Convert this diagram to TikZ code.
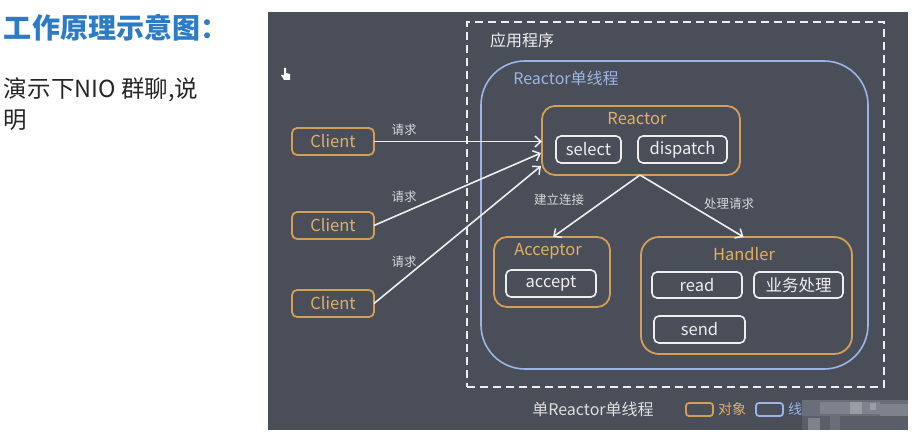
\documentclass[tikz,border=0pt]{standalone}
\usepackage{fontspec}
\setmainfont{Noto Sans CJK SC}
\usetikzlibrary{arrows.meta}
\definecolor{panel}{HTML}{4A4E59}
\definecolor{orng}{HTML}{D29E58}
\definecolor{orngtxt}{HTML}{E3AE65}
\definecolor{lblue}{HTML}{9DB4E6}
\definecolor{ttlblue}{HTML}{2C7BC6}
\definecolor{wht}{HTML}{EEEEEE}
\definecolor{mosA}{HTML}{6A6E78}
\definecolor{mosB}{HTML}{7E828C}
\definecolor{mosC}{HTML}{5A5E68}
\definecolor{mosD}{HTML}{9A9DA5}
\begin{document}
\begin{tikzpicture}[x=1pt,y=-1pt,
  every node/.style={inner sep=0pt, outer sep=0pt},
  objbox/.style={draw=orng, line width=1.8pt, rounded corners=13pt},
  clientbox/.style={draw=orng, line width=1.8pt, rounded corners=5pt, minimum width=82pt, minimum height=27pt, text=orngtxt, font=\fontsize{16.5}{18}\selectfont},
  fnbox/.style={draw=wht, line width=1.6pt, rounded corners=5pt, minimum height=27pt, text=wht, font=\fontsize{16.5}{18}\selectfont},
  objtitle/.style={text=orngtxt, font=\fontsize{16.5}{18}\selectfont},
  smalllbl/.style={text=wht!85!panel, font=\fontsize{12.5}{14}\selectfont},
  arr/.style={draw=wht, line width=1.6pt, -{Straight Barb[length=6pt,width=11pt,line width=1.5pt]}},
  legtxt/.style={text=wht!90!panel, font=\fontsize{16}{18}\selectfont}
]
\useasboundingbox (0,0) rectangle (917,435);
\fill[white] (0,0) rectangle (917,435);
\fill[panel] (268,12) rectangle (908,430);

% left texts
\node[anchor=west, text=ttlblue, font=\fontsize{28}{30}\selectfont\bfseries] (title) at (4,28) {工作原理示意图：};
\node[anchor=west, text=black!85, font=\fontsize{23.5}{26}\selectfont] (desc1) at (4,90) {演示下NIO 群聊,说};
\node[anchor=west, text=black!85, font=\fontsize{23.5}{26}\selectfont] (desc2) at (4,120) {明};

% cursor
\fill[white] (284,68) -- (286,68) -- (286,73) -- (290,74) -- (290,80) -- (284,80) -- (281,75) -- (284,75) -- cycle;

% containers
\node[draw=wht, dashed, dash pattern=on 8pt off 5pt, line width=1.6pt, minimum width=417pt, minimum height=365pt] (app) at (675.5,204.5) {};
\node[draw=lblue, line width=1.6pt, rounded corners=44pt, minimum width=387pt, minimum height=308pt] (thr) at (674.5,215) {};
\node[text=wht, font=\fontsize{16}{18}\selectfont] (applbl) at (522,40) {应用程序};
\node[text=lblue, font=\fontsize{16}{18}\selectfont] (thrlbl) at (566,78) {Reactor单线程};

% Reactor
\node[objbox, minimum width=198pt, minimum height=69pt] (reactor) at (641,140.5) {};
\node[objtitle] (reactorlbl) at (637,119) {Reactor};
\node[fnbox, minimum width=65pt] (select) at (588.5,149.5) {select};
\node[fnbox, minimum width=89pt] (dispatch) at (682.5,149.5) {dispatch};

% Clients
\node[clientbox] (c1) at (333,141.5) {Client};
\node[clientbox] (c2) at (333,225.5) {Client};
\node[clientbox] (c3) at (333,303.5) {Client};

% Acceptor
\node[objbox, minimum width=116pt, minimum height=70pt] (acceptor) at (552,272) {};
\node[objtitle] (acceptorlbl) at (548,251) {Acceptor};
\node[fnbox, minimum width=90pt] (accept) at (551,283.5) {accept};

% Handler
\node[objbox, rounded corners=18pt, minimum width=211pt, minimum height=117pt] (handler) at (746.5,295.5) {};
\node[objtitle] (handlerlbl) at (744,254) {Handler};
\node[fnbox, minimum width=90pt, minimum height=26pt] (read) at (697,285) {read};
\node[fnbox, minimum width=89pt, minimum height=26pt] (biz) at (798.5,285) {业务处理};
\node[fnbox, minimum width=91pt] (send) at (699.5,329.5) {send};

% connectors
\coordinate (r2) at (541,153);
\coordinate (r3) at (541,166);
\draw[arr] (c1.east) -- (c1.east -| reactor.west);
\draw[arr] (c2.east) -- (r2);
\draw[arr] (c3.east) -- (r3);
\draw[arr] ([xshift=-1pt]reactor.south) -- ([xshift=1pt]acceptor.north);
\draw[arr] ([xshift=-1pt]reactor.south) -- ([xshift=-3pt]handler.north);

\node[smalllbl] (q1) at (404,130) {请求};
\node[smalllbl] (q2) at (404,197) {请求};
\node[smalllbl] (q3) at (404,262) {请求};
\node[smalllbl] (conn) at (559,200) {建立连接};
\node[smalllbl] (proc) at (729,204) {处理请求};

% legend
\node[legtxt] (leg) at (593,409) {单Reactor单线程};
\node[draw=orng, line width=1.8pt, rounded corners=3pt, minimum width=27pt, minimum height=13pt] (legobj) at (699.5,409.5) {};
\node[text=orngtxt, font=\fontsize{14}{16}\selectfont] (legobjt) at (732,409.5) {对象};
\node[draw=lblue, line width=1.8pt, rounded corners=3pt, minimum width=27pt, minimum height=13pt] (legthr) at (769.5,409.5) {};
\node[text=lblue, font=\fontsize{14}{16}\selectfont] (legthrt) at (795,409.5) {线};

% mosaic
\fill[mosA] (802,400) rectangle (908,430);
\fill[mosB] (820,402) rectangle (850,414);
\fill[mosD] (850,402) rectangle (862,414);
\fill[mosB] (862,402) rectangle (880,414);
\fill[mosD] (870,403) rectangle (876,410);
\fill[mosC] (802,416) rectangle (830,430);
\fill[mosB] (808,418) rectangle (820,430);
\fill[mosC] (840,416) rectangle (908,430);
\fill[mosB] (880,404) rectangle (908,416);
\end{tikzpicture}
\end{document}
